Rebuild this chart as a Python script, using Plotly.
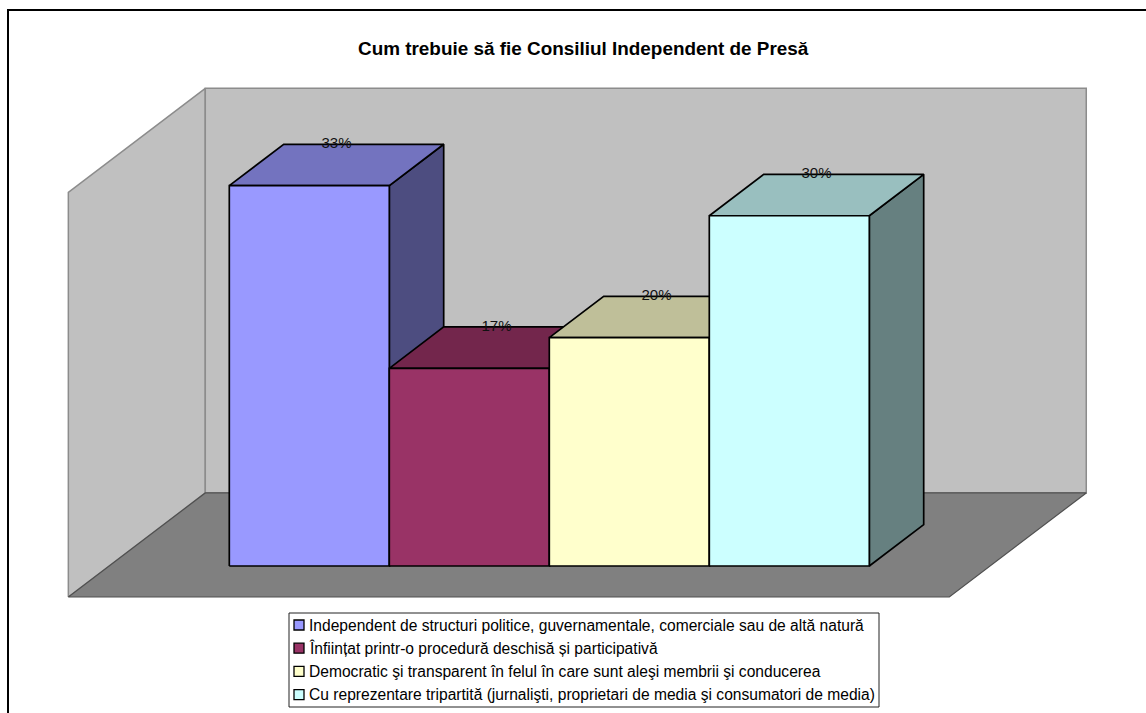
import plotly.graph_objects as go

# valori
categorii = [
    "Independent de structuri politice, guvernamentale, comerciale sau de altă natură",
    "Înființat printr-o procedură deschisă și participativă",
    "Democratic şi transparent în felul în care sunt aleşi membrii şi conducerea",
    "Cu reprezentare tripartită (jurnalişti, proprietari de media şi consumatori de media)",
]
valori = [32.9, 17.1, 19.75, 30.3]

culori_fata = ["#9999FF", "#993366", "#FFFFCC", "#CCFFFF"]
culori_sus = ["#7373BF", "#73264C", "#BFBF99", "#99BFBF"]
culori_lateral = ["#4D4D80", "#4D1A33", "#808066", "#668080"]

titlu = "Cum trebuie să fie Consiliul Independent de Presă"

W, H = 1146, 713
FONT = "Liberation Sans, Arial, sans-serif"

# o coloana are latimea 1 pe axa x, axa y este in procente
PX_X, PX_Y = 160, 11.56
X0_PX, Y0_PX = 309.3, 566
x_range = [-X0_PX / PX_X, (W - X0_PX) / PX_X]
y_range = [(Y0_PX - H) / PX_Y, Y0_PX / PX_Y]

# cutia 3D (podea + pereti)
Y_MAX = 35
BOX_X0, BOX_X1 = -1.506, 4.0
FLOOR_Y = -2.68
DEPTH_X, DEPTH_Y = 0.856, 9.0
# adancimea coloanelor
BAR_DX, BAR_DY = 0.34, 3.58


def poligon(fig, xs, ys, fill, line_color, line_width):
    fig.add_trace(go.Scatter(
        x=xs + xs[:1],
        y=ys + ys[:1],
        mode="lines",
        fill="toself",
        fillcolor=fill,
        line=dict(color=line_color, width=line_width),
        hoverinfo="skip",
        showlegend=False,
    ))


fig = go.Figure()

# perete stanga, perete spate, podea
poligon(fig,
        [BOX_X0, BOX_X0 + DEPTH_X, BOX_X0 + DEPTH_X, BOX_X0],
        [FLOOR_Y, FLOOR_Y + DEPTH_Y, FLOOR_Y + DEPTH_Y + Y_MAX, FLOOR_Y + Y_MAX],
        "#C0C0C0", "#8C8C8C", 1.5)
poligon(fig,
        [BOX_X0 + DEPTH_X, BOX_X1 + DEPTH_X, BOX_X1 + DEPTH_X, BOX_X0 + DEPTH_X],
        [FLOOR_Y + DEPTH_Y, FLOOR_Y + DEPTH_Y, FLOOR_Y + DEPTH_Y + Y_MAX, FLOOR_Y + DEPTH_Y + Y_MAX],
        "#C0C0C0", "#8C8C8C", 1.5)
poligon(fig,
        [BOX_X0, BOX_X1, BOX_X1 + DEPTH_X, BOX_X0 + DEPTH_X],
        [FLOOR_Y, FLOOR_Y, FLOOR_Y + DEPTH_Y, FLOOR_Y + DEPTH_Y],
        "#808080", "#505050", 1.2)

# coloanele, de la stanga la dreapta: lateral, sus, fata
for i, v in enumerate(valori):
    st, dr = i - 0.5, i + 0.5
    poligon(fig,
            [dr, dr + BAR_DX, dr + BAR_DX, dr],
            [0, BAR_DY, v + BAR_DY, v],
            culori_lateral[i], "black", 1.7)
    poligon(fig,
            [st, dr, dr + BAR_DX, st + BAR_DX],
            [v, v, v + BAR_DY, v + BAR_DY],
            culori_sus[i], "black", 1.7)
    poligon(fig,
            [st, dr, dr, st],
            [0, 0, v, v],
            culori_fata[i], "black", 1.7)

# etichetele de date
fig.add_trace(go.Scatter(
    x=[i + BAR_DX / 2 for i in range(len(valori))],
    y=[v + BAR_DY for v in valori],
    mode="text",
    text=[f"{v:.0f}%" for v in valori],
    textposition="middle center",
    textfont=dict(family=FONT, size=15, color="#111111"),
    hoverinfo="skip",
    showlegend=False,
))

# chenarul graficului (fara margine in dreapta si jos) si legenda
shapes = [
    dict(type="line", xref="paper", yref="paper", x0=8 / W, x1=8 / W, y0=0, y1=1 - 10 / H,
         line=dict(color="black", width=2)),
    dict(type="line", xref="paper", yref="paper", x0=7 / W, x1=1, y0=1 - 10 / H, y1=1 - 10 / H,
         line=dict(color="black", width=2)),
    dict(type="rect", xref="paper", yref="paper", x0=289 / W, x1=879 / W, y0=1 - 707 / H, y1=1 - 613 / H,
         fillcolor="white", line=dict(color="#222222", width=1)),
]
annotations = [
    dict(text=f"<b>{titlu}</b>", xref="paper", yref="paper", x=583 / W, y=1 - 48 / H,
         xanchor="center", yanchor="middle", showarrow=False,
         font=dict(family=FONT, size=18.9, color="black")),
]
for i, nume in enumerate(categorii):
    y_rand = 625 + i * 23.2
    shapes.append(dict(type="rect", xref="paper", yref="paper",
                       x0=294 / W, x1=304 / W, y0=1 - (y_rand + 5) / H, y1=1 - (y_rand - 5) / H,
                       fillcolor=culori_fata[i], line=dict(color="black", width=1.3)))
    annotations.append(dict(text=nume, xref="paper", yref="paper", x=307 / W, y=1 - y_rand / H,
                            xanchor="left", yanchor="middle", showarrow=False,
                            font=dict(family=FONT, size=15.6, color="black")))

fig.update_layout(
    width=W,
    height=H,
    margin=dict(l=0, r=0, t=0, b=0),
    paper_bgcolor="white",
    plot_bgcolor="white",
    hovermode=False,
    showlegend=False,
    xaxis=dict(visible=False, range=x_range, fixedrange=True),
    yaxis=dict(visible=False, range=y_range, fixedrange=True),
    shapes=shapes,
    annotations=annotations,
)

fig.write_html("out.html", config=dict(displayModeBar=False),
               post_script="document.body.style.margin='0';")
